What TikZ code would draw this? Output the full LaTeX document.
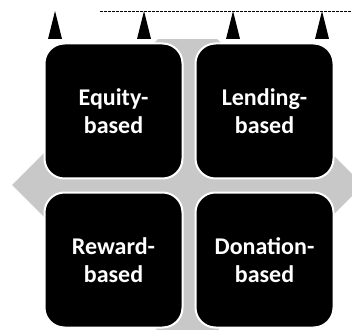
\documentclass[tikz,border=0pt]{standalone}
\usepackage{fontspec}
\newfontfamily\quadfont{Carlito}
\usetikzlibrary{positioning}
\definecolor{crossgray}{RGB}{200,200,200}
\tikzset{
  quad/.style={rectangle, rounded corners=20pt, minimum width=138pt, minimum height=135pt, text centered, align=center, draw=white, line width=2pt, fill=black, text=white, font=\quadfont\bfseries\fontsize{24}{28}\selectfont},
  tip/.style={fill=black},
  node distance=11pt
}
\begin{document}
\begin{tikzpicture}[x=1pt, y=1pt]
	\useasboundingbox (0,0) rectangle (352,329);

	% grey cross behind the four boxes
	\begin{scope}
		\clip (0,0) rectangle (352,289);
		\fill[crossgray] (12,144) -- (187.5,319.5) -- (363,144) -- (187.5,-31.5) -- cycle;
	\end{scope}

	\node[quad] (equity) at (113.5,218) {Equity-\\based};
	\node[quad, right=of equity] (lending) {Lending-\\based};
	\node[quad, below=12pt of equity] (reward) {Reward-\\based};
	\node[quad, below=12pt of lending] (donation) {Donation-\\based};

	% markers along the top
	\foreach \x in {55,144,233,322}
		\fill[tip] (\x-7,290) -- (\x,318) -- (\x+7,290) -- cycle;
	\draw[line width=0.7pt, dash pattern=on 3pt off 1pt] (100,317.5) -- (352,317.5);
\end{tikzpicture}
\end{document}
